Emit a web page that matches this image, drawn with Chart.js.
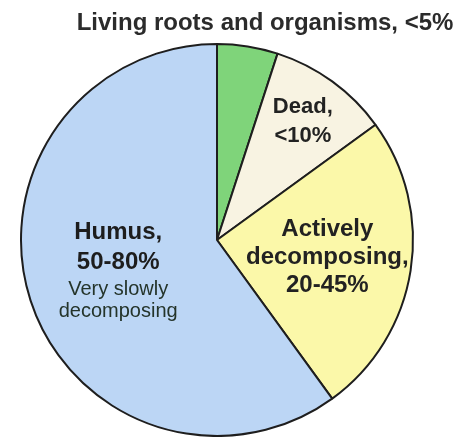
<!DOCTYPE html>
<html>
<head>
<meta charset="utf-8">
<script src="https://cdn.jsdelivr.net/npm/chart.js@4.4.0/dist/chart.umd.min.js"></script>
<style>
  html, body { margin: 0; padding: 0; background: #ffffff; }
  #wrap { width: 473px; height: 437px; position: relative; }
</style>
</head>
<body>
<div id="wrap"><canvas id="pie" width="473" height="437"></canvas></div>
<script>
  /* ── Data ─────────────────────────────────────────────────── */
  const categories = ['Living roots and organisms', 'Dead', 'Actively decomposing', 'Humus'];
  const shares     = [5, 10, 25, 60];
  const sliceColors = ['#7fd47a', '#f8f3e2', '#fbf8a9', '#bcd6f5'];

  // label text for each slice (index matches categories)
  const labelLines = [
    ['Living roots and organisms, <5%'],
    ['Dead,', '<10%'],
    ['Actively', 'decomposing,', '20-45%'],
    ['Humus,', '50-80%', 'Very slowly', 'decomposing'],
  ];

  /* ── Label placement / styling (not data) ─────────────────── */
  const FONT = "'Liberation Sans', Arial, Helvetica, sans-serif";
  const labelStyle = [
    { outside: true, dx: 48, y: 23, lines: [{ dy: 0, size: 24, bold: true, color: '#2b2b2b' }] },
    { frac: 0.745, lines: [
        { dy: -14.5, size: 22, bold: true, color: '#222' },
        { dy: 14.5, size: 22, bold: true, color: '#222' } ] },
    { frac: 0.57, lines: [
        { dy: -28, size: 24, bold: true, color: '#222' },
        { dy: 0, size: 24, bold: true, color: '#222' },
        { dy: 28, size: 24, bold: true, color: '#222' } ] },
    { frac: 0.53, lines: [
        { dy: -40, size: 24, bold: true, color: '#1d1d1d' },
        { dy: -10, size: 24, bold: true, color: '#1d1d1d' },
        { dy: 17, size: 20, bold: false, color: '#24342a' },
        { dy: 39, size: 20, bold: false, color: '#24342a' } ] },
  ];

  /* ── Slice label plugin ───────────────────────────────────── */
  const sliceLabels = {
    id: 'sliceLabels',
    afterDatasetsDraw(chart) {
      const ctx = chart.ctx;
      const meta = chart.getDatasetMeta(0);
      ctx.save();
      ctx.textAlign = 'center';
      ctx.textBaseline = 'middle';
      meta.data.forEach((arc, i) => {
        const p = arc.getProps(['x', 'y', 'startAngle', 'endAngle', 'outerRadius'], true);
        const st = labelStyle[i];
        let cx, cy;
        if (st.outside) {
          cx = p.x + st.dx;
          cy = st.y;
        } else {
          const mid = (p.startAngle + p.endAngle) / 2;
          cx = p.x + Math.cos(mid) * p.outerRadius * st.frac;
          cy = p.y + Math.sin(mid) * p.outerRadius * st.frac;
        }
        labelLines[i].forEach((txt, j) => {
          const ls = st.lines[j];
          ctx.font = `${ls.bold ? 'bold ' : ''}${ls.size}px ${FONT}`;
          ctx.fillStyle = ls.color;
          ctx.fillText(txt, cx, cy + ls.dy);
        });
      });
      ctx.restore();
    }
  };

  new Chart(document.getElementById('pie'), {
    type: 'pie',
    data: {
      labels: categories,
      datasets: [{
        data: shares,
        backgroundColor: sliceColors,
        borderColor: '#1e1e1e',
        borderWidth: 2,
        hoverOffset: 0,
      }]
    },
    options: {
      responsive: false,
      animation: false,
      radius: 196,
      layout: { padding: { left: 21, right: 60, top: 44, bottom: 1 } },
      plugins: {
        legend: { display: false },
        tooltip: { enabled: false },
        title: { display: false },
      },
      events: [],
    },
    plugins: [sliceLabels],
  });
</script>
</body>
</html>
